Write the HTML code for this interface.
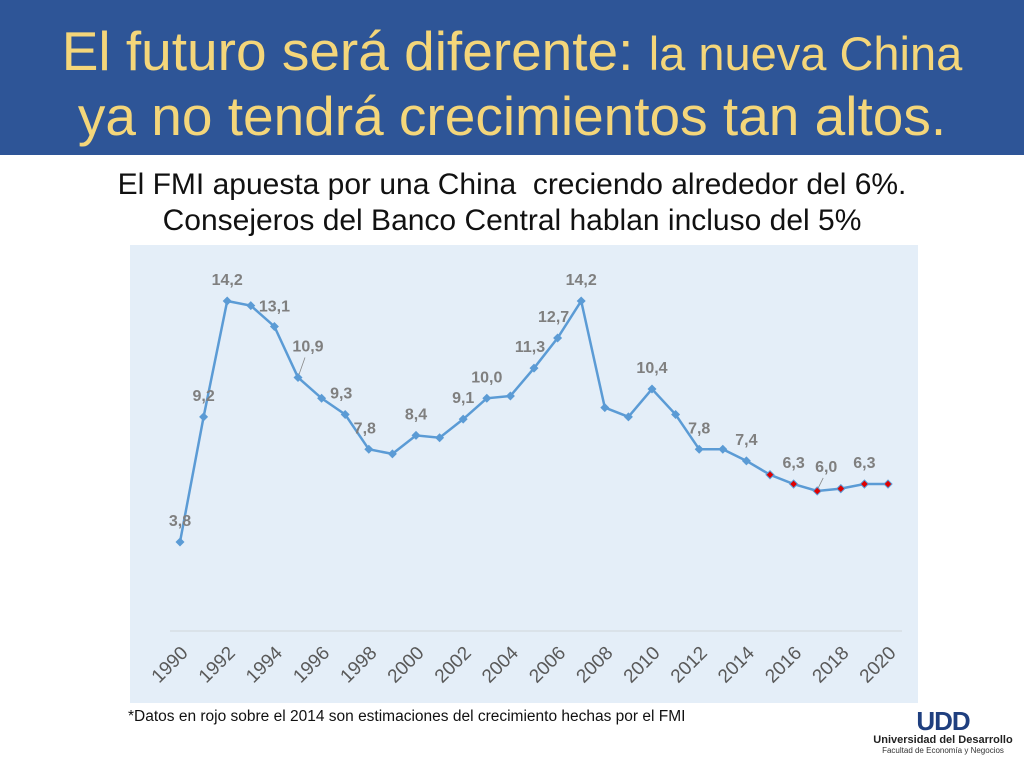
<!DOCTYPE html>
<html><head><meta charset="utf-8"><style>
body{margin:0;width:1024px;height:768px;background:#fff;position:relative;overflow:hidden;font-family:"Liberation Sans",sans-serif}
#title{position:absolute;left:0;top:0;width:1024px;height:155px;background:#2e5597;color:#f4d67a;text-align:center;font-size:55px;line-height:62px;padding-top:20px;box-sizing:border-box;white-space:nowrap}
#sub{position:absolute;left:0;top:167px;width:1024px;text-align:center;font-size:30px;line-height:36px;color:#111;white-space:nowrap}
#note{position:absolute;left:128px;top:708px;font-size:15.5px;color:#111;white-space:nowrap}
#logo{position:absolute;left:872px;top:708px;width:142px;text-align:center;color:#1f3f7f;white-space:nowrap}
</style></head><body>
<div id="title">El futuro será diferente: <span style="font-size:47px">la nueva China</span><br>ya no tendrá crecimientos tan altos.</div>
<div id="sub">El FMI apuesta por una China&nbsp; creciendo alrededor del 6%.<br>Consejeros del Banco Central hablan incluso del 5%</div>
<svg id="chart" width="1024" height="768" style="position:absolute;left:0;top:0">
<rect x="130" y="245" width="788" height="458" fill="#e4eef8"/>
<line x1="170" y1="631" x2="902" y2="631" stroke="#d0d5da" stroke-width="1"/>
<g id="g"></g>
</svg>
<div id="note">*Datos en rojo sobre el 2014 son estimaciones del crecimiento hechas por el FMI</div>
<div id="logo"><div style="font-size:26px;font-weight:bold;letter-spacing:-1px;line-height:26px">UDD</div><div style="font-size:11px;font-weight:bold;color:#222">Universidad del Desarrollo</div><div style="font-size:8px;color:#333">Facultad de Economía y Negocios</div></div>
<script>
const years=[1990,1991,1992,1993,1994,1995,1996,1997,1998,1999,2000,2001,2002,2003,2004,2005,2006,2007,2008,2009,2010,2011,2012,2013,2014,2015,2016,2017,2018,2019,2020];
const growth=[3.8,9.2,14.2,14.0,13.1,10.9,10.0,9.3,7.8,7.6,8.4,8.3,9.1,10.0,10.1,11.3,12.6,14.2,9.6,9.2,10.4,9.3,7.8,7.8,7.3,6.7,6.3,6.0,6.1,6.3,6.3];
const estimateFrom=2015;
const labelYears=[1990,1991,1992,1994,1995,1997,1998,2000,2002,2003,2005,2006,2007,2010,2012,2014,2016,2017,2019];
const labelTexts=["3,8","9,2","14,2","13,1","10,9","9,3","7,8","8,4","9,1","10,0","11,3","12,7","14,2","10,4","7,8","7,4","6,3","6,0","6,3"];
const tickYears=[1990,1992,1994,1996,1998,2000,2002,2004,2006,2008,2010,2012,2014,2016,2018,2020];
const lblOff={1990:[0,-16],1991:[0,-16],1992:[0,-16],1994:[0,-15],1995:[10,-26],1997:[-4,-16],1998:[-4,-16],2000:[0,-16],2002:[0,-16],2003:[0,-16],2005:[-4,-16],2006:[-4,-16],2007:[0,-16],2010:[0,-16],2012:[0,-16],2014:[0,-16],2016:[0,-16],2017:[9,-19],2019:[0,-16]};
const X=y=>180+(y-1990)*23.6, Y=v=>630-v*23.17;
const ns="http://www.w3.org/2000/svg", g=document.getElementById('g');
function mk(t,a){const e=document.createElementNS(ns,t);for(const k in a)e.setAttribute(k,a[k]);g.appendChild(e);return e;}
const line=mk('polyline',{points:years.map((y,i)=>X(y)+','+Y(growth[i])).join(' '),fill:'none',stroke:'#5b9bd5','stroke-width':2.5});


years.forEach((y,i)=>{const x=X(y),yy=Y(growth[i]),s=y>=estimateFrom?4:4.5;
const p=mk('polygon',{points:`${x},${yy-s} ${x+s},${yy} ${x},${yy+s} ${x-s},${yy}`,fill:y>=estimateFrom?'#e00000':'#5b9bd5',stroke:y>=estimateFrom?'#5b9bd5':'none','stroke-width':1});

});
labelYears.forEach((y,i)=>{const v=growth[years.indexOf(y)],o=lblOff[y]||[0,-16];const x=X(y)+o[0],yy=Y(v)+o[1];
if(y==1995||y==2017){mk('line',{x1:X(y)+1,y1:Y(v)-3,x2:x-3,y2:yy+6,stroke:'#888','stroke-width':0.8});}
const t=mk('text',{x:x,y:yy,'text-anchor':'middle','font-size':16,'font-weight':'bold',fill:'#7f7f7f','font-family':'Liberation Sans, sans-serif'});
t.textContent=labelTexts[i];

});
tickYears.forEach(y=>{const x=X(y);const t=mk('text',{x:x+9,y:654,transform:`rotate(-45 ${x+9} 654)`,'text-anchor':'end','font-size':19,fill:'#595959','font-family':'Liberation Sans, sans-serif'});
t.textContent=y;

});
</script>
</body></html>
